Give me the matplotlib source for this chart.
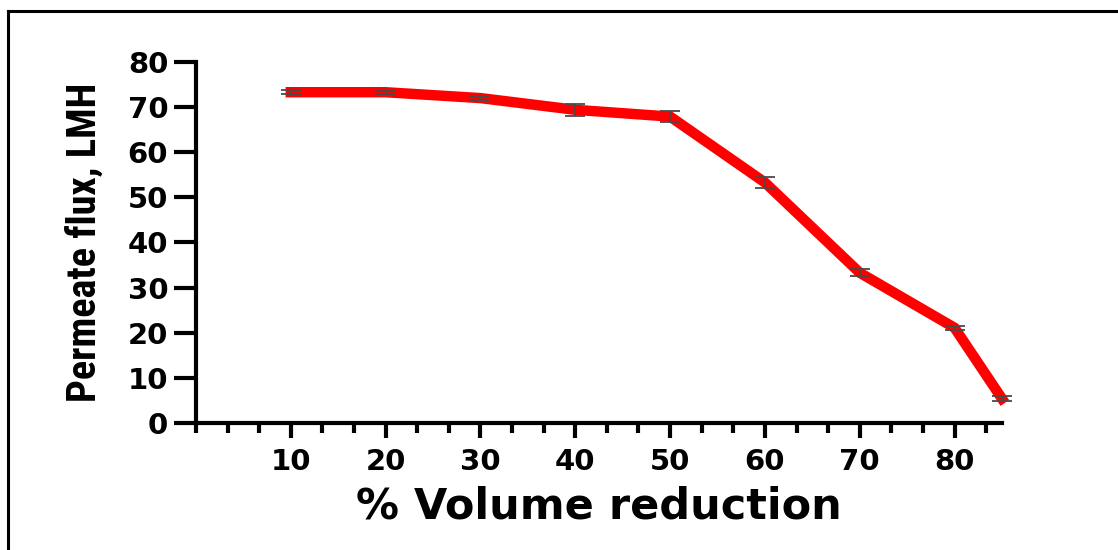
import matplotlib
matplotlib.use("Agg")
import matplotlib.pyplot as plt
from matplotlib.font_manager import FontProperties
from matplotlib.lines import Line2D
from matplotlib.ticker import MultipleLocator

# % volume reduction vs. permeate flux (mean ± SD)
volume_reduction = [10, 20, 30, 40, 50, 60, 70, 80, 85]
flux_lmh = [73.3, 73.3, 72.0, 69.4, 67.9, 53.3, 33.3, 21.1, 5.4]
flux_sd = [0.4, 0.3, 0.4, 1.4, 1.2, 1.3, 0.8, 0.5, 0.5]

x_ticks = [10, 20, 30, 40, 50, 60, 70, 80]
y_ticks = [0, 10, 20, 30, 40, 50, 60, 70, 80]

fig = plt.figure(figsize=(11.18, 5.5), dpi=100)
ax = fig.add_axes([0.1753, 0.2309, 0.7209, 0.6564])

ax.plot(volume_reduction, flux_lmh, color="#ff0000", lw=7.5,
        solid_joinstyle="miter", clip_on=False, zorder=2)
ax.errorbar(volume_reduction, flux_lmh, yerr=flux_sd, fmt="none",
            ecolor="#4a4a4a", elinewidth=1.3, capsize=7, capthick=1.3,
            clip_on=False, zorder=3)

ax.set_xlim(0, 85)
ax.set_ylim(0, 80)
ax.set_xticks(x_ticks)
ax.set_yticks(y_ticks)
ax.xaxis.set_minor_locator(MultipleLocator(10 / 3))

for side in ("top", "right"):
    ax.spines[side].set_visible(False)
for side in ("left", "bottom"):
    ax.spines[side].set_linewidth(3)

ax.tick_params(axis="y", which="major", length=16, width=3, pad=4)
ax.tick_params(axis="x", which="major", length=11, width=3, pad=7)
ax.tick_params(axis="x", which="minor", length=7, width=3)

tick_font = FontProperties(family="DejaVu Sans", weight="bold", size=21)
for lab in ax.get_xticklabels() + ax.get_yticklabels():
    lab.set_fontproperties(tick_font)

ax.set_xlabel("% Volume reduction", family="DejaVu Sans", weight="bold",
              fontsize=31, labelpad=7)
ax.set_ylabel("Permeate flux, LMH", family="Roboto Condensed",
              weight="bold", fontsize=29, labelpad=17)

# frame lines along the left and top edge of the figure
fig.add_artist(Line2D([8 / 1118, 1.0], [1 - 11 / 550, 1 - 11 / 550],
                      color="black", lw=2.2, transform=fig.transFigure))
fig.add_artist(Line2D([8 / 1118, 8 / 1118], [1 - 11 / 550, 0.0],
                      color="black", lw=2.2, transform=fig.transFigure))

fig.savefig("out.png", dpi=100)
